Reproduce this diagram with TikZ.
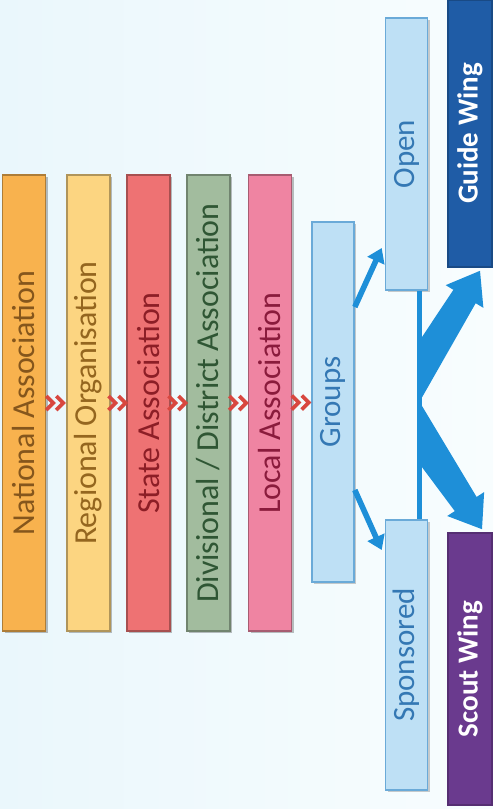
\documentclass[tikz,border=0pt]{standalone}
\usepackage{fontspec}
\setmainfont{Carlito}
\usetikzlibrary{calc,arrows.meta,shadows}
\definecolor{bgleft}{HTML}{EAF7FC}
\definecolor{bgright}{HTML}{F8FDFE}
\definecolor{natfill}{HTML}{F8B24E}
\definecolor{nattext}{HTML}{85561C}
\definecolor{regfill}{HTML}{FCD581}
\definecolor{regtext}{HTML}{94661F}
\definecolor{statefill}{HTML}{EE7273}
\definecolor{statetext}{HTML}{8C1E26}
\definecolor{divfill}{HTML}{A2BC9E}
\definecolor{divtext}{HTML}{2F5634}
\definecolor{localfill}{HTML}{EF84A2}
\definecolor{localtext}{HTML}{8A1B3C}
\definecolor{grpfill}{HTML}{BEE0F5}
\definecolor{grpdraw}{HTML}{6AAAD8}
\definecolor{grptext}{HTML}{3478B4}
\definecolor{guidefill}{HTML}{1F5CA6}
\definecolor{scoutfill}{HTML}{6A3A8E}
\definecolor{arrowblue}{HTML}{1E8FD8}
\definecolor{chevred}{HTML}{D8473F}
\tikzset{
  bar/.style={fill=#1, draw=#1!70!black, line width=0.8pt, inner sep=0pt,
    minimum width=21.5pt, minimum height=228pt,
    drop shadow={shadow xshift=1pt, shadow yshift=-1pt, fill=black, opacity=0.25},
    font=\fontsize{16}{19}\selectfont},
  bluebar/.style={fill=grpfill, draw=grpdraw, line width=0.8pt, inner sep=0pt,
    minimum width=21pt, text=grptext,
    drop shadow={shadow xshift=1pt, shadow yshift=-1pt, fill=black, opacity=0.2},
    font=\fontsize{15.5}{18}\selectfont},
  wingbar/.style={fill=#1, draw=#1!80!black, line width=0.8pt, inner sep=0pt,
    minimum width=22pt, text=white, font=\fontsize{14.5}{17}\selectfont\bfseries},
  thinarrow/.style={arrowblue, line width=2.8pt, -{Triangle[length=7pt,width=9pt]}},
  linkline/.style={arrowblue, line width=2.4pt},
  chevrons/.pic={
    \draw[chevred, line width=1.8pt] (-10,-7) -- (-3,0) -- (-10,7) (0,-7) -- (7,0) -- (0,7);
  }
}
\begin{document}
\begin{tikzpicture}[x=0.5pt,y=-0.5pt]
  \shade[left color=bgleft, right color=bgright] (0,0) rectangle (493,809);
  \useasboundingbox (0,0) rectangle (493,809);

  % association levels
  \node[bar=natfill, text=nattext] (nat) at (24,403) {\rotatebox{90}{National Association}};
  \node[bar=regfill, text=regtext] (reg) at (88.5,403) {\rotatebox{90}{Regional Organisation}};
  \node[bar=statefill, text=statetext] (state) at (148.5,403) {\rotatebox{90}{State Association}};
  \node[bar=divfill, text=divtext] (div) at (208.5,403) {\rotatebox{90}{Divisional / District Association}};
  \node[bar=localfill, text=localtext] (local) at (270,403) {\rotatebox{90}{Local Association}};

  % groups and their kinds
  \node[bluebar, minimum height=180pt] (groups) at (333,402) {\rotatebox{90}{Groups}};
  \node[bluebar, minimum height=136pt] (open) at (406.5,154) {\rotatebox{90}{Open}};
  \node[bluebar, minimum height=135pt] (spons) at (406.5,655) {\rotatebox{90}{Sponsored}};

  % wings
  \node[wingbar=guidefill, minimum height=133.5pt] (guide) at (470,133.5) {\rotatebox{90}{Guide Wing}};
  \node[wingbar=scoutfill, minimum height=136pt] (scout) at (470,669) {\rotatebox{90}{Scout Wing}};

  % chevrons between levels
  \path ($(nat.east)!0.5!(reg.west)$) pic {chevrons};
  \path ($(reg.east)!0.5!(state.west)$) pic {chevrons};
  \path ($(state.east)!0.5!(div.west)$) pic {chevrons};
  \path ($(div.east)!0.5!(local.west)$) pic {chevrons};
  \path ($(local.east)!0.5!(groups.west)$) pic {chevrons};

  % groups to open / sponsored
  \draw[thinarrow] ($(groups.east)+(0,-95)$) -- ($(open.west)+(-3,94)$);
  \draw[thinarrow] ($(groups.east)+(0,88)$) -- ($(spons.west)+(-3,-105)$);
  \draw[linkline] ($(open.south)+(13,0)$) -- ($(spons.north)+(13,0)$);

  % fork to the wings
  \coordinate (forkup) at ($(open.south)+(13,50)$);
  \coordinate (forkmid) at ($(open.south)+(13,111)$);
  \coordinate (forkdown) at ($(open.south)+(13,173)$);
  \coordinate (gt) at ($(guide.south)+(10,3)$);
  \coordinate (gm) at ($(forkup)!0.5!(forkmid)$);
  \coordinate (gh) at ($(gt)!15pt!(gm)$);
  \fill[arrowblue] (forkup) -- ($(gh)!6.5pt!90:(gt)$) -- ($(gh)!11pt!90:(gt)$) -- (gt)
    -- ($(gh)!11pt!-90:(gt)$) -- ($(gh)!6.5pt!-90:(gt)$) -- (forkmid) -- cycle;
  \coordinate (st) at ($(scout.north)+(12,-3)$);
  \coordinate (sm) at ($(forkmid)!0.5!(forkdown)$);
  \coordinate (sh) at ($(st)!15pt!(sm)$);
  \fill[arrowblue] (forkmid) -- ($(sh)!6.5pt!90:(st)$) -- ($(sh)!11pt!90:(st)$) -- (st)
    -- ($(sh)!11pt!-90:(st)$) -- ($(sh)!6.5pt!-90:(st)$) -- (forkdown) -- cycle;
\end{tikzpicture}
\end{document}
